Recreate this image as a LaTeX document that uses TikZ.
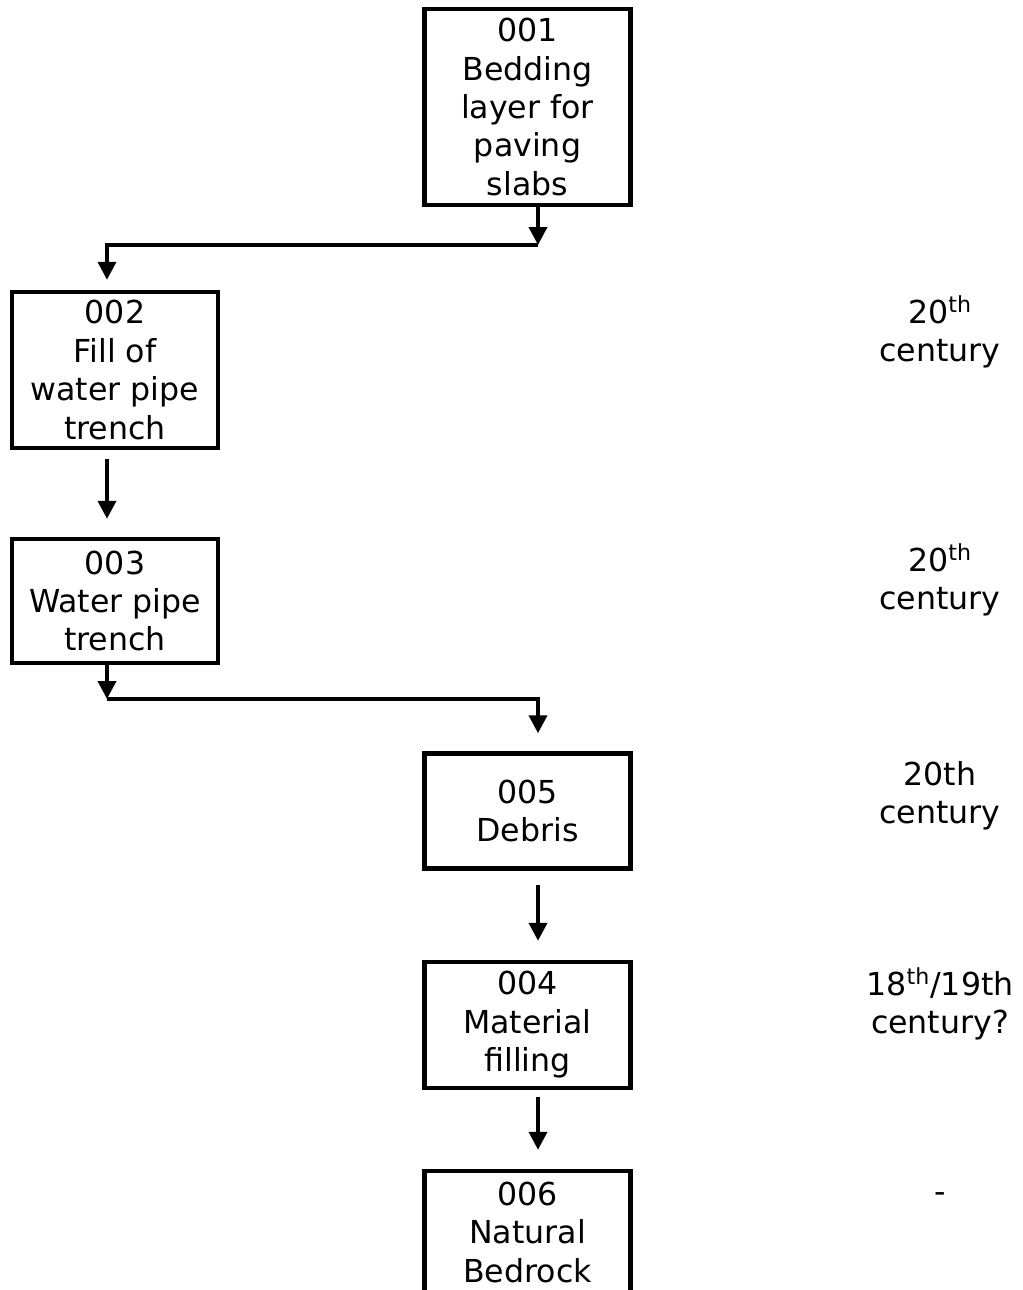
\documentclass[tikz,border=0pt]{standalone}
\usepackage{fontspec}
\setmainfont{DejaVu Sans}
\usetikzlibrary{arrows.meta}

\begin{document}
\begin{tikzpicture}[x=0.02cm, y=-0.02cm]
    \tikzset{
        every node/.style={font=\fontsize{18}{21.9}\selectfont},
        unitbox/.style={draw, line width=0.09cm, minimum width=4.12cm, inner sep=0pt, align=center},
        link/.style={line width=0.075cm, -{Triangle[length=0.36cm, width=0.36cm]}},
        period/.style={align=center, inner sep=0pt}
    }
    \clip (0,0) rectangle (1023,1290);

    % --- stratigraphic units ---
    \node[unitbox, minimum height=3.92cm] (u001) at (527.5,107) {001\\Bedding\\layer for\\paving\\slabs};
    \node[unitbox, minimum height=3.12cm] (u002) at (115,370) {002\\Fill of\\water pipe\\trench};
    \node[unitbox, minimum height=2.48cm] (u003) at (115,601) {003\\Water pipe\\trench};
    \node[unitbox, minimum height=2.30cm] (u005) at (527.5,811) {005\\Debris};
    \node[unitbox, minimum height=2.52cm] (u004) at (527.5,1025) {004\\Material\\filling};
    \node[unitbox, minimum height=2.44cm] (u006) at (527.5,1232) {006\\Natural\\Bedrock};

    % --- dates ---
    \node[period] (p002) at (940,332) {20\textsuperscript{th}\\century};
    \node[period] (p003) at (940,580) {20\textsuperscript{th}\\century};
    \node[period] (p005) at (940,796) {20th\\century};
    \node[period] (p004) at (940,1004) {18\textsuperscript{th}/19th\\century?};
    \node[period] (p006) at (940,1195) {\strut-};

    % --- relations ---
    \coordinate (j1) at (538,245);
    \coordinate (j2) at (107,699);
    \draw[link] (u001.south -| j1) -- (j1);
    \draw[link, shorten >=0.2cm] (j1) -| ([xshift=-0.16cm]u002.north);
    \draw[link, shorten <=0.18cm, shorten >=0.36cm] ([xshift=-0.16cm]u002.south) -- ([xshift=-0.16cm]u003.north);
    \draw[link] ([xshift=-0.16cm]u003.south) -- (j2);
    \draw[link, shorten >=0.36cm] (j2) -| (u005.north -| j1);
    \draw[link, shorten <=0.28cm, shorten >=0.38cm] (u005.south -| j1) -- (u004.north -| j1);
    \draw[link, shorten <=0.14cm, shorten >=0.38cm] (u004.south -| j1) -- (u006.north -| j1);
\end{tikzpicture}
\end{document}
